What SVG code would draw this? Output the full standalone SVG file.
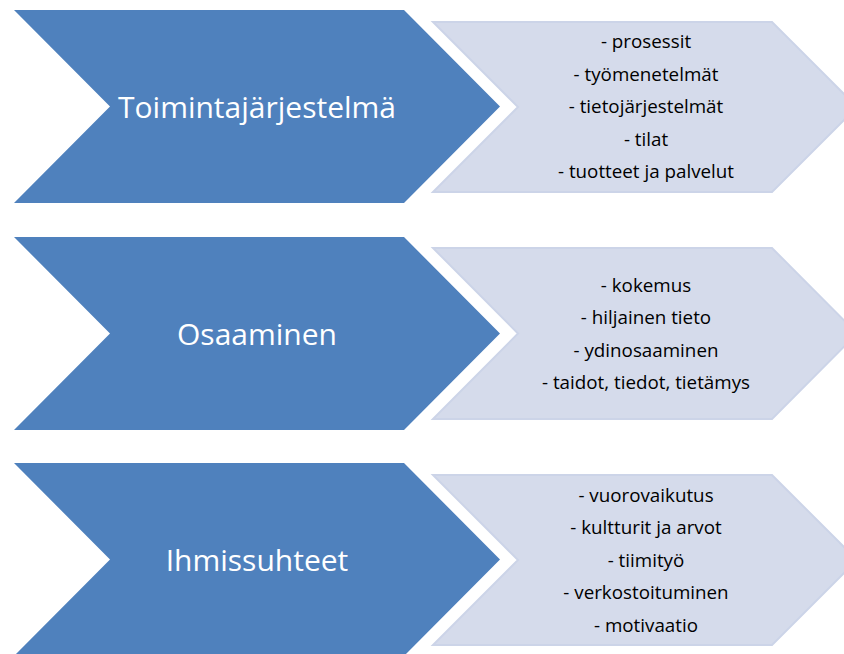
<svg xmlns="http://www.w3.org/2000/svg" width="844" height="654" viewBox="0 0 844 654">
<style>
.dark{fill:#4F81BD;}
.light{fill:#D5DBEB;stroke:#CCD4E8;stroke-width:2;}
.big{font-family:"Open Sans","Liberation Sans",sans-serif;font-size:30px;fill:#FFFFFF;text-anchor:middle;}
.small{font-family:"Open Sans","Liberation Sans",sans-serif;font-size:18.8px;fill:#000000;text-anchor:middle;}
</style>
<rect width="844" height="654" fill="#FFFFFF"/>
<g id="row1-title">
<polygon class="dark" points="14,10 404,10 500,106.5 404,203 14,203 110,106.5"/>
<text class="big" x="257" y="117.5">Toimintajärjestelmä</text>
</g>
<g id="row1-items">
<polygon class="light" points="433,22 772,22 857,107 772,192 433,192 518,107"/>
<text class="small" x="646" y="48">- prosessit</text>
<text class="small" x="646" y="80.5">- työmenetelmät</text>
<text class="small" x="646" y="113">- tietojärjestelmät</text>
<text class="small" x="646" y="145.5">- tilat</text>
<text class="small" x="646" y="178">- tuotteet ja palvelut</text>
</g>
<g id="row2-title">
<polygon class="dark" points="14,237 404,237 500,333.5 404,430 14,430 110,333.5"/>
<text class="big" x="257" y="344.5">Osaaminen</text>
</g>
<g id="row2-items">
<polygon class="light" points="433,248 772,248 857,333.5 772,419 433,419 518,333.5"/>
<text class="small" x="646" y="291.5">- kokemus</text>
<text class="small" x="646" y="324">- hiljainen tieto</text>
<text class="small" x="646" y="356.5">- ydinosaaminen</text>
<text class="small" x="646" y="389">- taidot, tiedot, tietämys</text>
</g>
<g id="row3-title">
<polygon class="dark" points="14,463 404,463 500,559.5 404,656 14,656 110,559.5"/>
<text class="big" x="257" y="570.5">Ihmissuhteet</text>
</g>
<g id="row3-items">
<polygon class="light" points="433,475 772,475 857,560 772,645 433,645 518,560"/>
<text class="small" x="646" y="501.5">- vuorovaikutus</text>
<text class="small" x="646" y="534">- kultturit ja arvot</text>
<text class="small" x="646" y="566.5">- tiimityö</text>
<text class="small" x="646" y="599">- verkostoituminen</text>
<text class="small" x="646" y="631.5">- motivaatio</text>
</g>
<g id="connectors"></g>
</svg>
